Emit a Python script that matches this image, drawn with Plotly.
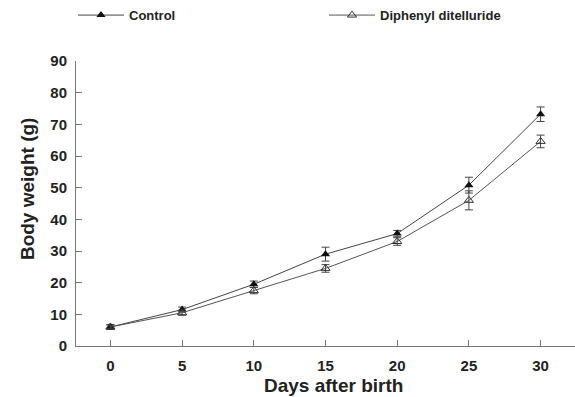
import plotly.graph_objects as go

days = [0, 5, 10, 15, 20, 25, 30]
control = [6.0, 11.5, 19.5, 29.0, 35.5, 50.8, 73.2]
control_err = [0.8, 0.8, 1.0, 2.2, 1.0, 2.5, 2.3]
diphenyl = [6.0, 10.5, 17.5, 24.5, 33.0, 46.0, 64.6]
diphenyl_err = [0.6, 0.8, 1.0, 1.2, 1.2, 3.0, 2.0]
x_ticks = [0, 5, 10, 15, 20, 25, 30]
y_ticks = [0, 10, 20, 30, 40, 50, 60, 70, 80, 90]

font_family = "Liberation Sans, Arial, sans-serif"
txt = "#222222"

fig = go.Figure()
fig.add_trace(go.Scatter(
    x=days, y=control, name="Control", mode="lines+markers",
    line=dict(color="#444444", width=1),
    marker=dict(symbol="triangle-up", size=8, color="#111111"),
    error_y=dict(type="data", array=control_err, visible=True, color="#444444", thickness=1, width=4),
))
fig.add_trace(go.Scatter(
    x=days, y=diphenyl, name="Diphenyl ditelluride", mode="lines+markers",
    line=dict(color="#555555", width=1),
    marker=dict(symbol="triangle-up-open", size=8, color="#333333", line=dict(width=1)),
    error_y=dict(type="data", array=diphenyl_err, visible=True, color="#444444", thickness=1, width=4),
))

fig.update_layout(
    width=575, height=397,
    margin=dict(l=76, r=0, t=61, b=51),
    paper_bgcolor="white", plot_bgcolor="white",
    font=dict(family=font_family, color=txt),
    showlegend=True,
    legend=dict(
        orientation="h", x=-0.004, y=1.161, xanchor="left", yanchor="middle",
        font=dict(size=13, family=font_family, color=txt, weight="bold"),
        entrywidth=190, entrywidthmode="pixels", itemwidth=46,
        bgcolor="rgba(0,0,0,0)",
    ),
    xaxis=dict(
        range=[-2.4, 32.4], tickmode="array", tickvals=x_ticks,
        ticks="inside", ticklen=6, tickcolor="#777777",
        showline=True, linecolor="#777777", linewidth=1,
        showgrid=False, zeroline=False, ticklabelstandoff=6,
        tickfont=dict(size=15, family=font_family, color=txt, weight="bold"),
    ),
    yaxis=dict(
        range=[0, 90], tickmode="array", tickvals=y_ticks,
        ticks="inside", ticklen=6, tickcolor="#777777",
        showline=True, linecolor="#777777", linewidth=1,
        showgrid=False, zeroline=False, ticklabelstandoff=5,
        tickfont=dict(size=15, family=font_family, color=txt, weight="bold"),
    ),
    annotations=[
        dict(text="<b>Days after birth</b>", xref="paper", yref="paper",
             x=0.517, y=-0.140, xanchor="center", yanchor="middle", showarrow=False,
             font=dict(size=19, family=font_family, color=txt)),
        dict(text="<b>Body weight (g)</b>", xref="paper", yref="paper",
             x=-0.096, y=0.551, xanchor="center", yanchor="middle", showarrow=False,
             textangle=-90, font=dict(size=19, family=font_family, color=txt)),
    ],
)

fig.write_html("out.html")
